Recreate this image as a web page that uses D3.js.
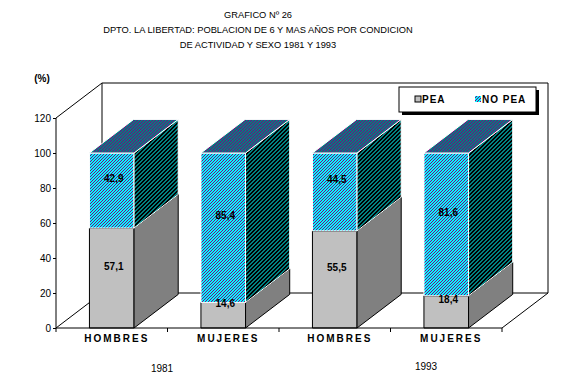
<!DOCTYPE html>
<html>
<head>
<meta charset="utf-8">
<script src="https://cdn.jsdelivr.net/npm/d3@7"></script>
<style>
  body { margin: 0; background: #fff; }
  text { font-family: Arial, "Liberation Sans", sans-serif; }
</style>
</head>
<body>
<div id="chart"></div>
<script>
// chart data
const categories = ['H1981', 'M1981', 'H1993', 'M1993'];
const categoryLabels = ['HOMBRES', 'MUJERES', 'HOMBRES', 'MUJERES'];
const peaValues = [57.1, 14.6, 55.5, 18.4];
const noPeaValues = [42.9, 85.4, 44.5, 81.6];
const yearLabels = ['1981', '1993'];
const yTicks = [0, 20, 40, 60, 80, 100, 120];
const titleLines = [
    'GRAFICO Nº 26',
    'DPTO. LA LIBERTAD: POBLACION DE 6 Y MAS AÑOS POR CONDICION',
    'DE ACTIVIDAD Y SEXO 1981 Y 1993'
];
const seriesNames = ['PEA', 'NO PEA'];

const width = 581, height = 379;
const plot = { left: 56, right: 502, top: 118, bottom: 328 };
const depth = { dx: 46, dy: -35 };
const barDepth = 0.96;

const svg = d3.select('#chart').append('svg')
    .attr('width', width)
    .attr('height', height);

// pixel hatch patterns, "/" direction
const defs = svg.append('defs');
function hatch(id, bg, fg, size, thick) {
    const p = defs.append('pattern')
        .attr('id', id)
        .attr('patternUnits', 'userSpaceOnUse')
        .attr('width', size)
        .attr('height', size);
    p.append('rect').attr('width', size).attr('height', size).attr('fill', bg);
    for (let i = 0; i < size; i++) {
        for (let t = 0; t < thick; t++) {
            p.append('rect')
                .attr('x', i)
                .attr('y', (size - 1 - i + t) % size)
                .attr('width', 1).attr('height', 1)
                .attr('fill', fg);
        }
    }
}
hatch('front-hatch', '#00ffff', '#800080', 3, 1);
hatch('top-hatch', '#008080', '#800080', 3, 1);
hatch('side-hatch', '#008080', '#000000', 4, 2);

const x = d3.scaleBand()
    .domain(categories)
    .range([plot.left, plot.right])
    .paddingInner(0.6)
    .paddingOuter(0.3);
const xEdge = d3.scaleLinear().domain([0, categories.length]).range([plot.left, plot.right]);
const y = d3.scaleLinear().domain([0, 120]).range([plot.bottom, plot.top]);

// title
svg.append('g').selectAll('text')
    .data(titleLines)
    .enter().append('text')
    .attr('x', 258)
    .attr('y', (d, i) => 17.5 + i * 15)
    .attr('text-anchor', 'middle')
    .style('font-size', '9.3px')
    .text(d => d);

// walls and floor
const frame = svg.append('g')
    .attr('fill', 'none')
    .attr('stroke', '#000')
    .attr('stroke-width', 1);
const bx = plot.left + depth.dx, by0 = plot.bottom + depth.dy, by1 = plot.top + depth.dy;
const bxr = plot.right + depth.dx;
frame.append('path')
    .attr('d', `M${plot.left},${plot.top} L${bx},${by1} L${bxr},${by1} L${bxr},${by0} L${plot.right},${plot.bottom}`);
frame.append('path')
    .attr('d', `M${bx},${by1} L${bx},${by0} L${bxr},${by0}`);
frame.append('path')
    .attr('d', `M${plot.left},${plot.bottom} L${bx},${by0}`);

// y axis
const yAxis = svg.append('g')
    .attr('transform', `translate(${plot.left},0)`)
    .call(d3.axisLeft(y).tickValues(yTicks).tickSize(3).tickPadding(2));
yAxis.select('.domain').remove();
yAxis.selectAll('text').style('font-size', '10px').style('font-family', 'Arial, "Liberation Sans", sans-serif').attr('fill', '#000');
yAxis.selectAll('line').attr('stroke', '#000');
svg.append('line')
    .attr('x1', plot.left).attr('x2', plot.left)
    .attr('y1', plot.top).attr('y2', plot.bottom)
    .attr('stroke', '#000');

svg.append('text')
    .attr('x', 42).attr('y', 82)
    .attr('text-anchor', 'middle')
    .style('font-size', '10px')
    .style('font-weight', 'bold')
    .text('(%)');

// bars
const bdx = depth.dx * barDepth, bdy = depth.dy * barDepth;
const segStyles = [
    { front: '#c0c0c0', side: '#808080', top: '#c0c0c0', stroke: '#000' },
    { front: 'url(#front-hatch)', side: 'url(#side-hatch)', top: 'url(#top-hatch)', stroke: '#fff' }
];
const bars = svg.append('g');
categories.forEach((c, i) => {
    const x0 = x(c), x1 = x(c) + x.bandwidth();
    const segs = [[0, peaValues[i]], [peaValues[i], peaValues[i] + noPeaValues[i]]];
    segs.forEach(([v0, v1], s) => {
        const st = segStyles[s];
        const ya = y(v0), yb = y(v1);
        const g = bars.append('g').attr('stroke', st.stroke).attr('stroke-width', 1);
        g.append('path')
            .attr('d', `M${x0},${ya} L${x1},${ya} L${x1},${yb} L${x0},${yb} Z`)
            .attr('fill', st.front);
        g.append('path')
            .attr('d', `M${x1},${ya} L${x1 + bdx},${ya + bdy} L${x1 + bdx},${yb + bdy} L${x1},${yb} Z`)
            .attr('fill', st.side);
        g.append('path')
            .attr('d', `M${x0},${yb} L${x1},${yb} L${x1 + bdx},${yb + bdy} L${x0 + bdx},${yb + bdy} Z`)
            .attr('fill', st.top);
    });
});

// value labels
const fmt = v => d3.format('.1f')(v).replace('.', ',');
categories.forEach((c, i) => {
    const cx = x(c) + x.bandwidth() / 2 + 2;
    const labels = [
        { v: peaValues[i], mid: peaValues[i] / 2 },
        { v: noPeaValues[i], mid: peaValues[i] + noPeaValues[i] / 2 }
    ];
    labels.forEach(l => {
        svg.append('text')
            .attr('x', cx)
            .attr('y', y(l.mid) - 12)
            .attr('dy', '0.35em')
            .attr('text-anchor', 'middle')
            .style('font-size', '10px')
            .style('font-weight', 'bold')
            .text(fmt(l.v));
    });
});

// x axis
svg.append('line')
    .attr('x1', plot.left).attr('x2', plot.right)
    .attr('y1', plot.bottom).attr('y2', plot.bottom)
    .attr('stroke', '#000');
svg.append('g').selectAll('line')
    .data(d3.range(categories.length + 1))
    .enter().append('line')
    .attr('x1', d => xEdge(d)).attr('x2', d => xEdge(d))
    .attr('y1', plot.bottom).attr('y2', plot.bottom + 4)
    .attr('stroke', '#000');
svg.append('g').selectAll('text')
    .data(categories)
    .enter().append('text')
    .attr('x', (d, i) => x(d) + x.bandwidth() / 2 + 5)
    .attr('y', 342)
    .attr('text-anchor', 'middle')
    .style('font-size', '10px')
    .style('font-weight', 'bold')
    .style('letter-spacing', '2px')
    .text((d, i) => categoryLabels[i]);

svg.append('g').selectAll('text')
    .data(yearLabels)
    .enter().append('text')
    .attr('x', (d, i) => i === 0 ? 162 : 426)
    .attr('y', (d, i) => i === 0 ? 372 : 370)
    .attr('text-anchor', 'middle')
    .style('font-size', '10px')
    .text(d => d);

// legend
const legend = svg.append('g').attr('transform', 'translate(399,87)');
legend.append('rect')
    .attr('x', 3).attr('y', 3).attr('width', 137).attr('height', 25)
    .attr('fill', '#000');
legend.append('rect')
    .attr('width', 137).attr('height', 25)
    .attr('fill', '#fff').attr('stroke', '#000');
const legendItems = [
    { name: seriesNames[0], fill: '#c0c0c0', x: 16 },
    { name: seriesNames[1], fill: 'url(#front-hatch)', x: 76 }
];
legendItems.forEach(it => {
    legend.append('rect')
        .attr('x', it.x).attr('y', 9).attr('width', 6).attr('height', 6)
        .attr('fill', it.fill)
        .attr('stroke', it.name === 'PEA' ? '#000' : 'none');
    legend.append('text')
        .attr('x', it.x + 7).attr('y', 16)
        .style('font-size', '10px')
        .style('font-weight', 'bold')
        .style('letter-spacing', '1px')
        .text(it.name);
});
</script>
</body>
</html>
